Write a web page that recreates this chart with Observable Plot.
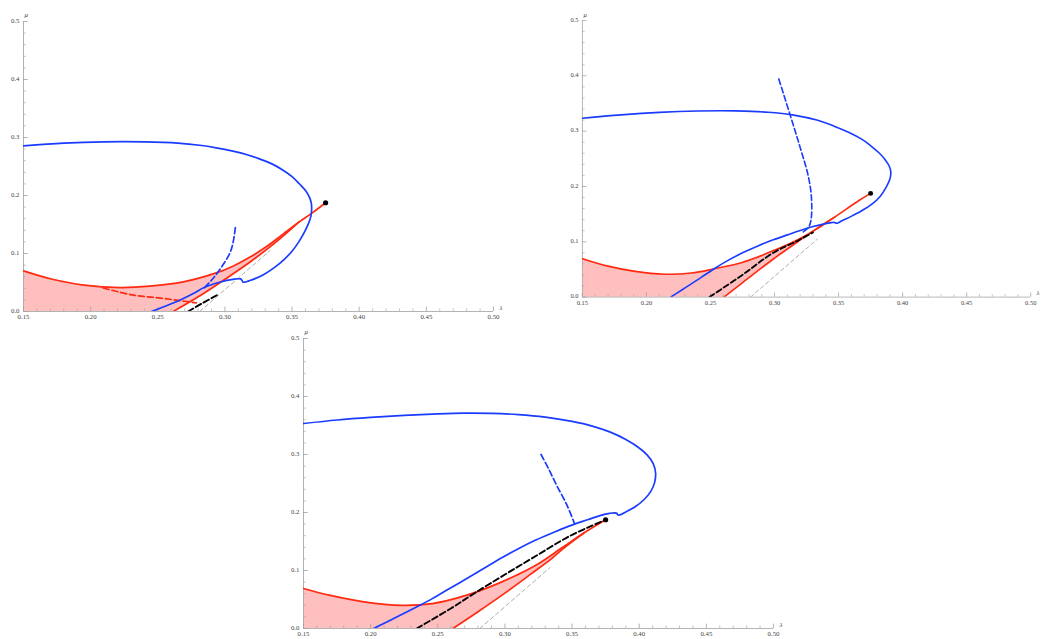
<!DOCTYPE html>
<html><head><meta charset="utf-8">
<script src="https://cdn.jsdelivr.net/npm/d3@7"></script>
<script src="https://cdn.jsdelivr.net/npm/@observablehq/plot@0.6"></script>
<style>
html,body{margin:0;padding:0;background:#fff;}
body{width:1056px;height:639px;overflow:hidden;position:relative;font-family:"Liberation Serif",serif;}
.panel{position:absolute;}
.panel svg{overflow:visible;display:block;}
</style></head><body>
<div id="p1" class="panel" style="left:0px;top:0px"></div>
<div id="p2" class="panel" style="left:560px;top:0px"></div>
<div id="p3" class="panel" style="left:280px;top:317px"></div>
<script>
// ---- axis ticks and labels ----
const xMajor = [0.15, 0.20, 0.25, 0.30, 0.35, 0.40, 0.45, 0.50];
const xLabels = ["0.15", "0.20", "0.25", "0.30", "0.35", "0.40", "0.45", "0.50"];
const yMajor = [0.0, 0.1, 0.2, 0.3, 0.4, 0.5];
const yLabels = ["0.0", "0.1", "0.2", "0.3", "0.4", "0.5"];
const xMinor = [0.16,0.17,0.18,0.19,0.21,0.22,0.23,0.24,0.26,0.27,0.28,0.29,0.31,0.32,0.33,0.34,0.36,0.37,0.38,0.39,0.41,0.42,0.43,0.44,0.46,0.47,0.48,0.49];
const yMinor = [0.02,0.04,0.06,0.08,0.12,0.14,0.16,0.18,0.22,0.24,0.26,0.28,0.32,0.34,0.36,0.38,0.42,0.44,0.46,0.48];
const xName = "λ";
const yName = "μ";

// ---- shared ----
const grayLine = [[0.28125, 0], [0.3335, 0.105]];
const point = [[0.375, 0.1875]];

// ---- panel 1 ----
const p1RedUpper = [[0.15,0.070],[0.17,0.0565],[0.195,0.0455],[0.222,0.0413],[0.244,0.0436],[0.269,0.051],[0.2935,0.0665],[0.306,0.078],[0.318,0.093],[0.331,0.112],[0.343,0.133],[0.355,0.154],[0.365,0.170],[0.375,0.1875]];
const p1RedLower = [[0.2615,0],[0.282,0.028],[0.30,0.0555],[0.32,0.0875],[0.34,0.1235],[0.355,0.154]];
const p1RedDashed = [[0.2094,0.0405],[0.2317,0.0282],[0.249,0.024],[0.2638,0.0195],[0.2787,0.0149]];
const p1Black = [[0.2725,0],[0.283,0.014],[0.294,0.028]];
const p1Blue = [[0.15,0.2856],[0.18,0.2903],[0.21,0.2926],[0.24,0.2925],[0.265,0.2903],[0.2812,0.2866],[0.2935,0.2822],[0.3059,0.2764],[0.3165,0.2702],[0.3257,0.2632],[0.335,0.2545],[0.343,0.2440],[0.350,0.2325],[0.3554,0.2202],[0.3600,0.2085],[0.3629,0.1972],[0.3643,0.1870],[0.3646,0.1772],[0.3640,0.1640],[0.3622,0.1514],[0.3590,0.1360],[0.3550,0.1200],[0.3500,0.1040],[0.3440,0.0895],[0.3370,0.0760],[0.3290,0.0640],[0.3205,0.0550],[0.3135,0.0505],[0.3128,0.0535],[0.3115,0.0562],[0.306,0.0555],[0.296,0.0505],[0.2845,0.0415],[0.2765,0.031],[0.2663,0.0195],[0.256,0.0095],[0.2453,0]];
const p1BlueDashed = [[0.2849,0.0413],[0.2911,0.0568],[0.298,0.0786],[0.3035,0.0998],[0.3059,0.117],[0.3079,0.1474]];
const p1Merge = 0.355;

// ---- panel 2 ----
const p2RedUpper = [[0.15,0.0695],[0.17,0.056],[0.19,0.047],[0.2141,0.0414],[0.235,0.0435],[0.2528,0.0511],[0.2746,0.0626],[0.2988,0.0836],[0.3181,0.1037],[0.335,0.126],[0.3472,0.145],[0.3665,0.1755],[0.375,0.1875]];
const p2RedLower = [[0.2605,0],[0.2746,0.0253],[0.2988,0.0684],[0.3181,0.1],[0.3375,0.131],[0.3472,0.145]];
const p2Black = [[0.2492,0],[0.2746,0.0397],[0.2988,0.0799],[0.3181,0.102],[0.330,0.117]];
const p2Blue = [[0.15,0.3234],[0.18,0.3295],[0.21,0.3340],[0.24,0.3364],[0.27,0.3366],[0.295,0.3342],[0.315,0.3290],[0.333,0.3200],[0.346,0.3095],[0.3582,0.2976],[0.368,0.2855],[0.376,0.2718],[0.3815,0.2610],[0.3862,0.2489],[0.3895,0.2370],[0.3908,0.2259],[0.3900,0.2130],[0.3872,0.1990],[0.3824,0.1820],[0.3760,0.1680],[0.3680,0.1560],[0.3594,0.1455],[0.3530,0.1385],[0.3490,0.1335],[0.3478,0.1338],[0.3468,0.1350],[0.3445,0.1347],[0.338,0.132],[0.33,0.1275],[0.32,0.1205],[0.31,0.1125],[0.299,0.1035],[0.287,0.0925],[0.275,0.08],[0.263,0.0655],[0.252,0.05],[0.243,0.036],[0.235,0.024],[0.227,0.012],[0.219,0]];
const p2BlueDashed = [[0.3224,0.118],[0.3265,0.126],[0.3285,0.14],[0.3288,0.18],[0.3262,0.22],[0.3198,0.272],[0.3122,0.329],[0.3032,0.395]];
const p2Merge = 0.3472;

// ---- panel 3 ----
const p3RedUpper = [[0.15,0.069],[0.17,0.057],[0.195,0.046],[0.2228,0.040],[0.246,0.043],[0.2716,0.0575],[0.2973,0.080],[0.323,0.109],[0.343,0.140],[0.359,0.165],[0.375,0.1875]];
const p3RedLower = [[0.2613,0],[0.28,0.029],[0.30,0.061],[0.32,0.095],[0.335,0.121],[0.343,0.137],[0.359,0.165]];
const p3Black = [[0.2343,0],[0.26,0.035],[0.2768,0.06],[0.30,0.093],[0.323,0.125],[0.3487,0.16],[0.375,0.1875]];
const p3Blue = [[0.15,0.3534],[0.175,0.3595],[0.20,0.3640],[0.225,0.3675],[0.25,0.3700],[0.27,0.3712],[0.29,0.3708],[0.31,0.3688],[0.33,0.3645],[0.35,0.3570],[0.365,0.3490],[0.378,0.3390],[0.39,0.3260],[0.399,0.3130],[0.406,0.2990],[0.4105,0.2840],[0.4122,0.2680],[0.4115,0.2520],[0.4085,0.2360],[0.4035,0.2220],[0.3970,0.2100],[0.3900,0.2010],[0.3855,0.1958],[0.3838,0.1962],[0.3835,0.1985],[0.3815,0.1995],[0.378,0.1985],[0.372,0.1955],[0.3616,0.1875],[0.3513,0.1795],[0.337,0.1665],[0.323,0.1525],[0.310,0.1375],[0.2973,0.1215],[0.2845,0.1040],[0.2716,0.0862],[0.2585,0.0685],[0.2459,0.0515],[0.2345,0.0375],[0.2235,0.0245],[0.2125,0.0115],[0.2022,0]];
const p3BlueDashed = [[0.3269,0.30],[0.333,0.273],[0.3385,0.247],[0.3462,0.2126],[0.3518,0.181]];
const p3Merge = 0.343;

const RED = "#ff2a10", BLUE = "#1a3cff", FILL = "#ffbfbf", AXIS = "#a0a0a0", TXT = "#444";

function fillPolygon(upper, lower, merge) {
  const top = upper.filter(d => d[0] <= merge + 1e-9);
  const bot = lower.filter(d => d[0] <= merge + 1e-9).slice().reverse();
  return [...top, ...bot, [upper[0][0], 0]];
}

function panel(id, width, d) {
  const chart = Plot.plot({
    width: width, height: 322,
    marginLeft: 23, marginTop: 21, marginRight: width - 23 - 470, marginBottom: 11,
    x: {domain: [0.15, 0.5], axis: null},
    y: {domain: [0, 0.5], axis: null},
    style: {fontFamily: "'Liberation Serif', 'DejaVu Serif', serif", background: "transparent", overflow: "visible"},
    marks: [
      Plot.line(fillPolygon(d.redUpper, d.redLower, d.merge), {fill: FILL, stroke: "none", clip: true}),
      // axes
      Plot.ruleY([0], {stroke: AXIS, strokeWidth: 0.8}),
      Plot.ruleX([0.15], {y1: 0, y2: 0.5, stroke: AXIS, strokeWidth: 0.8}),
      Plot.ruleX(xMajor, {x: v => v, y1: 0, y2: 0.0075, stroke: AXIS, strokeWidth: 0.8}),
      Plot.ruleX(xMinor, {x: v => v, y1: 0, y2: 0.0045, stroke: AXIS, strokeWidth: 0.6}),
      Plot.ruleY(yMajor, {y: v => v, x1: 0.15, x2: 0.1535, stroke: AXIS, strokeWidth: 0.8}),
      Plot.ruleY(yMinor, {y: v => v, x1: 0.15, x2: 0.1521, stroke: AXIS, strokeWidth: 0.6}),
      Plot.text(xMajor, {x: v => v, frameAnchor: "bottom", text: (v, i) => xLabels[i], lineAnchor: "top", dy: 3, fontSize: 6.8, fill: TXT}),
      Plot.text(yMajor, {y: v => v, frameAnchor: "left", text: (v, i) => yLabels[i], textAnchor: "end", dx: -4, dy: -0.8, fontSize: 6.8, fill: TXT}),
      Plot.text([xName], {frameAnchor: "bottom-right", text: v => v, textAnchor: "start", dx: 6, dy: -2, fontSize: 7, fontStyle: "italic", fill: TXT}),
      Plot.text([yName], {frameAnchor: "top-left", text: v => v, textAnchor: "start", dx: 1, dy: -9, fontSize: 7, fontStyle: "italic", fill: TXT}),
      // curves
      Plot.line(grayLine, {stroke: "#888", strokeWidth: 0.7, strokeDasharray: "4,3", clip: true}),
      Plot.line(d.redLower, {stroke: RED, strokeWidth: 1.7, curve: "catmull-rom", clip: true}),
      Plot.line(d.redUpper, {stroke: RED, strokeWidth: 1.7, curve: "catmull-rom", clip: true}),
      d.redDashed ? Plot.line(d.redDashed, {stroke: RED, strokeWidth: 1.7, strokeDasharray: "6,3", curve: "catmull-rom", clip: true}) : null,
      Plot.line(d.black, {stroke: "#000", strokeWidth: 1.9, strokeDasharray: "6,3", curve: "catmull-rom", clip: true}),
      Plot.line(d.blue, {stroke: BLUE, strokeWidth: 1.7, curve: "catmull-rom", clip: true}),
      Plot.line(d.blueDashed, {stroke: BLUE, strokeWidth: 1.7, strokeDasharray: "6,3", curve: "catmull-rom", clip: true}),
      Plot.dot(point, {r: 2.6, fill: "#000", stroke: "none"})
    ].filter(Boolean)
  });
  document.getElementById(id).appendChild(chart);
}

panel("p1", 520, {redUpper: p1RedUpper, redLower: p1RedLower, redDashed: p1RedDashed, black: p1Black, blue: p1Blue, blueDashed: p1BlueDashed, merge: p1Merge});
panel("p2", 520, {redUpper: p2RedUpper, redLower: p2RedLower, black: p2Black, blue: p2Blue, blueDashed: p2BlueDashed, merge: p2Merge});
panel("p3", 520, {redUpper: p3RedUpper, redLower: p3RedLower, black: p3Black, blue: p3Blue, blueDashed: p3BlueDashed, merge: p3Merge});
</script>
</body></html>
